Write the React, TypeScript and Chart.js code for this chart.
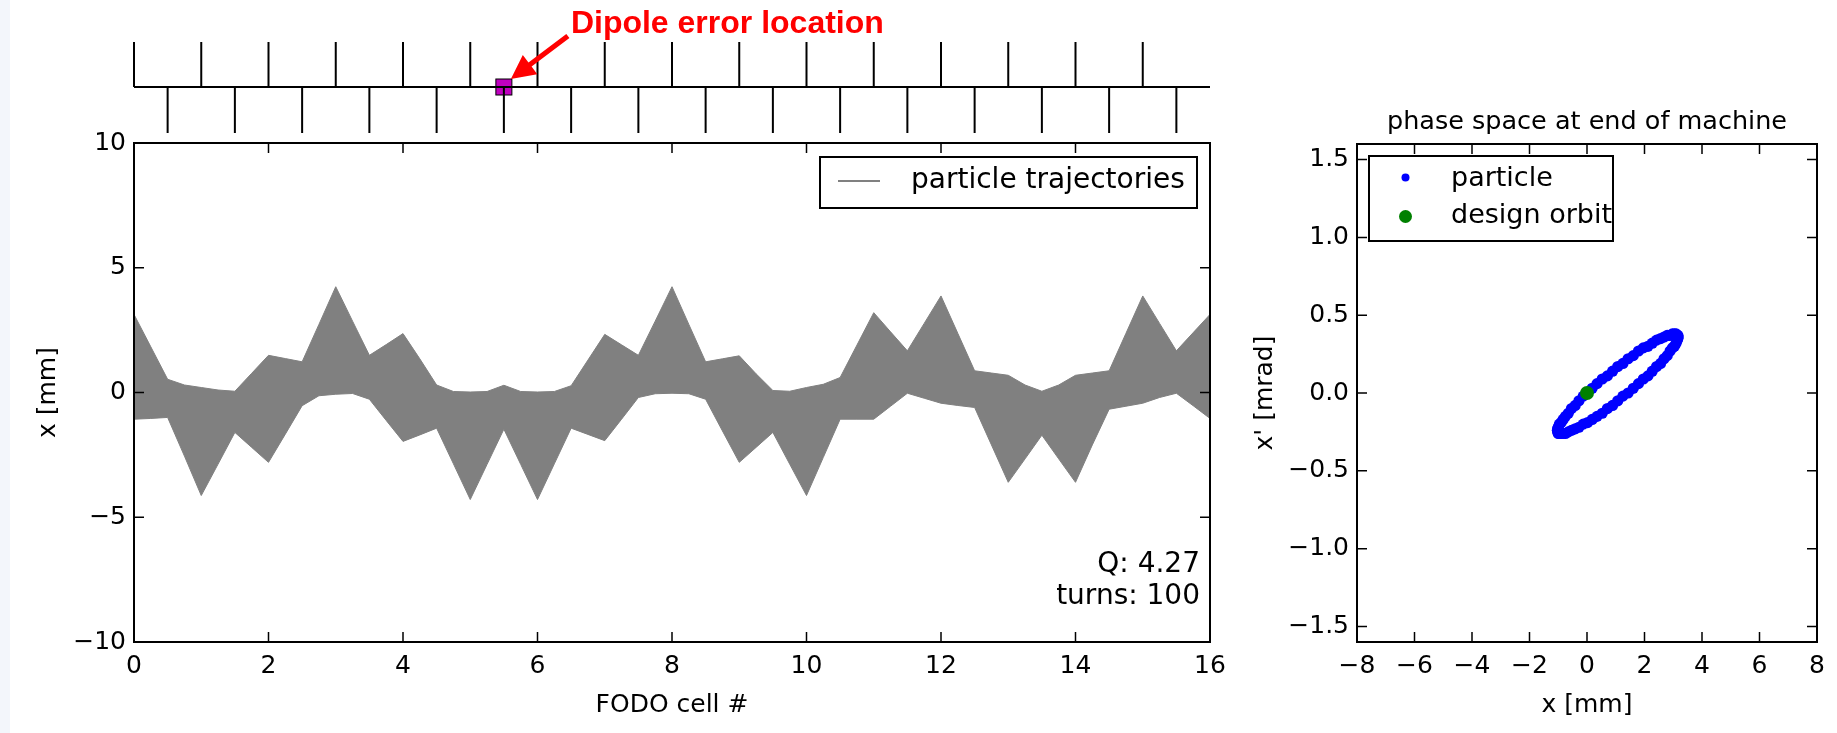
import React, { useEffect, useRef } from "react";
import { Chart, registerables } from "chart.js";

Chart.register(...registerables);

const FONT = "'DejaVu Sans', sans-serif";
const GRAY = "#808080";

// ---------- main panel data (FODO cell # vs x [mm]) ----------
const cellPositions = [
  0, 0.25, 0.5, 0.75, 1, 1.25, 1.5, 1.75, 2, 2.25, 2.5, 2.75, 3, 3.25, 3.5, 3.75,
  4, 4.25, 4.5, 4.75, 5, 5.25, 5.5, 5.75, 6, 6.25, 6.5, 6.75, 7, 7.25, 7.5, 7.75,
  8, 8.25, 8.5, 8.75, 9, 9.25, 9.5, 9.75, 10, 10.25, 10.5, 10.75, 11, 11.25, 11.5, 11.75,
  12, 12.25, 12.5, 12.75, 13, 13.25, 13.5, 13.75, 14, 14.25, 14.5, 14.75, 15, 15.25, 15.5, 15.75, 16,
];
const upperEnvelope = [
  3.13, 1.83, 0.53, 0.3, 0.2, 0.1, 0.05, 0.77, 1.49, 1.36, 1.23, 2.73, 4.24, 2.86, 1.49, 1.92,
  2.36, 1.35, 0.3, 0.04, 0.02, 0.04, 0.29, 0.04, 0.02, 0.04, 0.27, 1.3, 2.33, 1.91, 1.49, 2.86,
  4.24, 2.73, 1.23, 1.35, 1.47, 0.75, 0.08, 0.05, 0.2, 0.33, 0.6, 1.9, 3.2, 2.43, 1.67, 2.77,
  3.87, 2.37, 0.87, 0.78, 0.69, 0.3, 0.05, 0.3, 0.69, 0.78, 0.87, 2.37, 3.87, 2.77, 1.67, 2.4, 3.13,
];
const lowerEnvelope = [
  -1.07, -1.04, -1.0, -2.55, -4.13, -2.87, -1.6, -2.2, -2.8, -1.67, -0.53, -0.13, -0.07, -0.04, -0.27, -1.12,
  -1.96, -1.7, -1.43, -2.86, -4.29, -2.88, -1.47, -2.88, -4.29, -2.86, -1.43, -1.68, -1.93, -1.07, -0.2, -0.05,
  -0.03, -0.05, -0.27, -1.54, -2.8, -2.2, -1.6, -2.87, -4.13, -2.6, -1.07, -1.07, -1.07, -0.55, -0.03, -0.23,
  -0.43, -0.52, -0.6, -2.1, -3.6, -2.66, -1.71, -2.66, -3.6, -2.1, -0.67, -0.55, -0.43, -0.2, -0.03, -0.53, -1.04,
];
const focusingQuads = [0, 1, 2, 3, 4, 5, 6, 7, 8, 9, 10, 11, 12, 13, 14, 15];
const defocusingQuads = [0.5, 1.5, 2.5, 3.5, 4.5, 5.5, 6.5, 7.5, 8.5, 9.5, 10.5, 11.5, 12.5, 13.5, 14.5, 15.5];
const dipoleErrorCell = [5.5];
const mainXTicks = [0, 2, 4, 6, 8, 10, 12, 14, 16];
const mainYTicks = [-10, -5, 0, 5, 10];
const tuneLabel = "Q: 4.27";
const turnsLabel = "turns: 100";

// ---------- phase-space panel data ----------
const particleX = [
  3.17, 3.16, 3.14, 3.1, 3.04, 2.97, 2.89, 2.79, 2.68, 2.56, 2.42, 2.27, 2.12, 1.96, 1.79, 1.61, 1.43, 1.25,
  1.07, 0.89, 0.71, 0.53, 0.35, 0.18, 0.02, -0.13, -0.28, -0.41, -0.54, -0.65, -0.75, -0.83, -0.9, -0.96, -1.0, -1.02,
  -1.03, -1.02, -1.0, -0.96, -0.9, -0.83, -0.75, -0.65, -0.54, -0.41, -0.28, -0.13, 0.02, 0.18, 0.35, 0.53, 0.71, 0.89,
  1.07, 1.25, 1.43, 1.61, 1.79, 1.96, 2.12, 2.27, 2.42, 2.56, 2.68, 2.79, 2.89, 2.97, 3.04, 3.1, 3.14, 3.16,
];
const particleXp = [
  0.36, 0.35, 0.34, 0.32, 0.3, 0.29, 0.27, 0.24, 0.22, 0.19, 0.17, 0.14, 0.11, 0.09, 0.06, 0.03, 0.0, -0.02,
  -0.05, -0.08, -0.1, -0.13, -0.15, -0.17, -0.19, -0.2, -0.22, -0.23, -0.24, -0.25, -0.26, -0.26, -0.26, -0.26, -0.26, -0.25,
  -0.24, -0.23, -0.22, -0.2, -0.19, -0.17, -0.15, -0.13, -0.1, -0.08, -0.05, -0.02, 0.0, 0.03, 0.06, 0.09, 0.11, 0.14,
  0.17, 0.19, 0.22, 0.24, 0.27, 0.29, 0.3, 0.32, 0.34, 0.35, 0.36, 0.37, 0.37, 0.38, 0.38, 0.38, 0.37, 0.37,
];
const designOrbitX = [0];
const designOrbitXp = [0];
const phaseXTicks = [-8, -6, -4, -2, 0, 2, 4, 6, 8];
const phaseYTicks = [-1.5, -1.0, -0.5, 0.0, 0.5, 1.0, 1.5];

const minus = (s: string) => s.replace("-", "\u2212");
const fmtInt = (v: any) => minus(String(v));
const fmtOne = (v: any) => minus(Number(v).toFixed(1));

function framePlugin(id: string, xTicks: number[], yTicks: number[]) {
  return {
    id,
    afterDatasetsDraw(chart: any) {
      const { ctx, chartArea: a, scales } = chart;
      ctx.save();
      ctx.strokeStyle = "#000";
      ctx.lineWidth = 1.5;
      ctx.beginPath();
      for (const v of xTicks) {
        const px = scales.x.getPixelForValue(v);
        ctx.moveTo(px, a.top);
        ctx.lineTo(px, a.top + 10);
        ctx.moveTo(px, a.bottom);
        ctx.lineTo(px, a.bottom - 10);
      }
      for (const v of yTicks) {
        const py = scales.y.getPixelForValue(v);
        ctx.moveTo(a.left, py);
        ctx.lineTo(a.left + 10, py);
        ctx.moveTo(a.right, py);
        ctx.lineTo(a.right - 10, py);
      }
      ctx.stroke();
      ctx.lineWidth = 2;
      ctx.strokeRect(a.left, a.top, a.right - a.left, a.bottom - a.top);
      ctx.restore();
    },
  };
}

const mainOverlay = {
  id: "mainOverlay",
  afterDraw(chart: any) {
    const { ctx, chartArea: a, scales } = chart;
    const xs = scales.x;
    ctx.save();
    // lattice diagram
    const baseY = 87;
    for (const v of dipoleErrorCell) {
      const px = xs.getPixelForValue(v);
      ctx.fillStyle = "#bf00bf";
      ctx.fillRect(px - 8, baseY - 8, 16, 16);
      ctx.strokeStyle = "#000";
      ctx.lineWidth = 1;
      ctx.strokeRect(px - 8, baseY - 8, 16, 16);
    }
    ctx.strokeStyle = "#000";
    ctx.lineWidth = 2;
    ctx.beginPath();
    ctx.moveTo(xs.getPixelForValue(0), baseY);
    ctx.lineTo(xs.getPixelForValue(16), baseY);
    for (const v of focusingQuads) {
      const px = xs.getPixelForValue(v);
      ctx.moveTo(px, baseY);
      ctx.lineTo(px, 42);
    }
    for (const v of defocusingQuads) {
      const px = xs.getPixelForValue(v);
      ctx.moveTo(px, baseY);
      ctx.lineTo(px, 133);
    }
    ctx.stroke();

    // arrow + annotation
    const mpx = xs.getPixelForValue(dipoleErrorCell[0]);
    const tip = { x: mpx + 7, y: baseY - 8 };
    const tail = { x: tip.x + 57, y: tip.y - 43 };
    const dx = tip.x - tail.x, dy = tip.y - tail.y;
    const len = Math.hypot(dx, dy);
    const ux = dx / len, uy = dy / len;
    const nx = -uy, ny = ux;
    const headLen = 24, headHalf = 12, shaft = 2.6;
    const bx = tip.x - ux * headLen, by = tip.y - uy * headLen;
    ctx.fillStyle = "#ff0000";
    ctx.beginPath();
    ctx.moveTo(tail.x + nx * shaft, tail.y + ny * shaft);
    ctx.lineTo(bx + nx * shaft, by + ny * shaft);
    ctx.lineTo(bx + nx * headHalf, by + ny * headHalf);
    ctx.lineTo(tip.x, tip.y);
    ctx.lineTo(bx - nx * headHalf, by - ny * headHalf);
    ctx.lineTo(bx - nx * shaft, by - ny * shaft);
    ctx.lineTo(tail.x - nx * shaft, tail.y - ny * shaft);
    ctx.closePath();
    ctx.fill();
    ctx.font = "bold 32px 'Liberation Sans', Arial, sans-serif";
    ctx.textAlign = "left";
    ctx.textBaseline = "alphabetic";
    ctx.fillText("Dipole error location", mpx + 67, 33);

    // legend
    const lw = 377, lh = 51;
    const lx = a.right - 13 - lw, ly = a.top + 14;
    ctx.fillStyle = "#fff";
    ctx.fillRect(lx, ly, lw, lh);
    ctx.strokeStyle = "#000";
    ctx.lineWidth = 2;
    ctx.strokeRect(lx, ly, lw, lh);
    const ds = chart.data.datasets[0];
    ctx.strokeStyle = ds.borderColor;
    ctx.lineWidth = 2;
    ctx.beginPath();
    ctx.moveTo(lx + 18, ly + 24);
    ctx.lineTo(lx + 60, ly + 24);
    ctx.stroke();
    ctx.fillStyle = "#000";
    ctx.font = `28px ${FONT}`;
    ctx.fillText(ds.label, lx + 91, ly + 31);

    // Q / turns annotation
    ctx.textAlign = "right";
    ctx.fillText(tuneLabel, a.right - 10, a.bottom - 70.5);
    ctx.fillText(turnsLabel, a.right - 10, a.bottom - 38);
    ctx.restore();
  },
};

const phaseOverlay = {
  id: "phaseOverlay",
  afterDraw(chart: any) {
    const { ctx, chartArea: a } = chart;
    ctx.save();
    ctx.fillStyle = "#000";
    ctx.font = `25.5px ${FONT}`;
    ctx.textAlign = "center";
    ctx.textBaseline = "alphabetic";
    ctx.fillText("phase space at end of machine", (a.left + a.right) / 2, 129);

    const bw = 244, bh = 85;
    const bx = a.left + 12, by = a.top + 12;
    ctx.fillStyle = "#fff";
    ctx.fillRect(bx, by, bw, bh);
    ctx.strokeStyle = "#000";
    ctx.lineWidth = 2;
    ctx.strokeRect(bx, by, bw, bh);
    const [pDs, dDs] = chart.data.datasets;
    ctx.fillStyle = pDs.backgroundColor;
    ctx.beginPath();
    ctx.arc(bx + 36.5, by + 21.5, 4, 0, Math.PI * 2);
    ctx.fill();
    ctx.fillStyle = dDs.backgroundColor;
    ctx.beginPath();
    ctx.arc(bx + 36.5, by + 60.5, 6.5, 0, Math.PI * 2);
    ctx.fill();
    ctx.fillStyle = "#000";
    ctx.font = `27px ${FONT}`;
    ctx.textAlign = "left";
    ctx.fillText(pDs.label, bx + 82, by + 30);
    ctx.fillText(dDs.label, bx + 82, by + 67);
    ctx.restore();
  },
};

function axisCommon(min: number, max: number, ticks: number[], fmt: (v: any) => string, title: string, titlePad: any, tickPad: number, fit: (s: any) => void) {
  return {
    type: "linear",
    min,
    max,
    afterBuildTicks: (s: any) => {
      s.ticks = ticks.map((v) => ({ value: v }));
    },
    afterFit: fit,
    grid: { display: false, drawTicks: false },
    border: { display: false },
    ticks: {
      padding: tickPad,
      color: "#000",
      font: { family: FONT, size: 25 },
      callback: fmt,
      maxRotation: 0,
      autoSkip: false,
    },
    title: {
      display: true,
      text: title,
      color: "#000",
      font: { family: FONT, size: 25 },
      padding: titlePad,
    },
  };
}

export default function App() {
  const mainRef = useRef<HTMLCanvasElement>(null);
  const phaseRef = useRef<HTMLCanvasElement>(null);

  useEffect(() => {
    const mainChart = new Chart(mainRef.current as HTMLCanvasElement, {
      type: "line",
      data: {
        datasets: [
          {
            label: "particle trajectories",
            data: cellPositions.map((x, i) => ({ x, y: upperEnvelope[i] })),
            borderColor: GRAY,
            backgroundColor: GRAY,
            borderWidth: 1,
            pointRadius: 0,
            fill: "+1",
            tension: 0,
          },
          {
            label: "particle trajectories (lower)",
            data: cellPositions.map((x, i) => ({ x, y: lowerEnvelope[i] })),
            borderColor: GRAY,
            backgroundColor: GRAY,
            borderWidth: 1,
            pointRadius: 0,
            fill: false,
            tension: 0,
          },
        ],
      },
      options: {
        animation: false,
        responsive: false,
        devicePixelRatio: 1,
        events: [],
        layout: { padding: { left: 0, right: 30, top: 143, bottom: 0 } },
        plugins: { legend: { display: false }, tooltip: { enabled: false } },
        scales: {
          x: axisCommon(0, 16, mainXTicks, fmtInt, "FODO cell #", { top: 0, bottom: 13 }, 9, (s: any) => { s.height = 91; }),
          y: axisCommon(-10, 10, mainYTicks, fmtInt, "x [mm]", { top: 33, bottom: 0 }, 8, (s: any) => { s.width = 134; }),
        },
      } as any,
      plugins: [framePlugin("mainFrame", mainXTicks, mainYTicks), mainOverlay],
    } as any);

    const phaseChart = new Chart(phaseRef.current as HTMLCanvasElement, {
      type: "scatter",
      data: {
        datasets: [
          {
            label: "particle",
            data: particleX.map((x, i) => ({ x, y: particleXp[i] })),
            backgroundColor: "#0000ff",
            borderColor: "#0000ff",
            borderWidth: 0,
            pointRadius: 5.6,
            order: 1,
          },
          {
            label: "design orbit",
            data: designOrbitX.map((x, i) => ({ x, y: designOrbitXp[i] })),
            backgroundColor: "#008000",
            borderColor: "#008000",
            borderWidth: 0,
            pointRadius: 7,
            order: 0,
          },
        ],
      },
      options: {
        animation: false,
        responsive: false,
        devicePixelRatio: 1,
        events: [],
        layout: { padding: { left: 0, right: 20, top: 144, bottom: 0 } },
        plugins: { legend: { display: false }, tooltip: { enabled: false } },
        scales: {
          x: axisCommon(-8, 8, phaseXTicks, fmtInt, "x [mm]", { top: 0, bottom: 13 }, 9, (s: any) => { s.height = 91; }),
          y: axisCommon(-1.6, 1.6, phaseYTicks, fmtOne, "x' [mrad]", { top: 10, bottom: 0 }, 8, (s: any) => { s.width = 117; }),
        },
      } as any,
      plugins: [framePlugin("phaseFrame", phaseXTicks, phaseYTicks), phaseOverlay],
    } as any);

    return () => {
      mainChart.destroy();
      phaseChart.destroy();
    };
  }, []);

  return (
    <div style={{ position: "absolute", left: 0, top: 0, width: 1837, height: 733, background: "#ffffff", overflow: "hidden" }}>
      <div style={{ position: "absolute", left: 0, top: 0, width: 10, height: 733, background: "#f3f6fb" }} />
      <canvas ref={mainRef} width={1240} height={733} style={{ position: "absolute", left: 0, top: 0 }} />
      <canvas ref={phaseRef} width={597} height={733} style={{ position: "absolute", left: 1240, top: 0 }} />
    </div>
  );
}
